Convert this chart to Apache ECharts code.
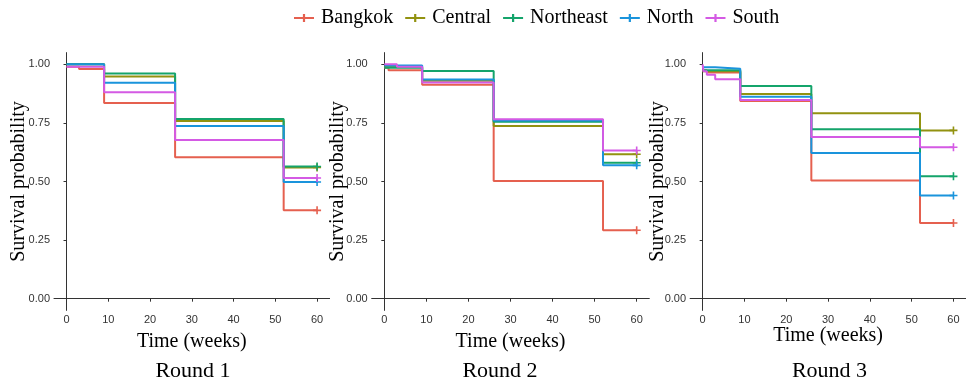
<!DOCTYPE html>
<html>
<head>
<meta charset="utf-8">
<script src="https://cdn.jsdelivr.net/npm/echarts@6/dist/echarts.min.js"></script>
<style>
  html, body { margin: 0; padding: 0; background: #fff; }
  #chart { width: 966px; height: 384px; }
</style>
</head>
<body>
<div id="chart"></div>
<script>
// Kaplan-Meier style survival curves by region, one panel per survey round.
const regions = ['Bangkok', 'Central', 'Northeast', 'North', 'South'];
const regionColors = ['#E5604F', '#929210', '#14A46B', '#1A94DC', '#D45AE4'];
const roundTitles = ['Round 1', 'Round 2', 'Round 3'];
const xTicks = [0, 10, 20, 30, 40, 50, 60];
const yTicks = [0, 0.25, 0.5, 0.75, 1];
const censorTime = 60;

// [time in weeks, survival probability] at each step, per region
const round1 = {
  Bangkok:   [[0, 0.99], [3, 0.98], [9, 0.835], [26, 0.603], [52, 0.377]],
  Central:   [[0, 1.00], [9, 0.948], [26, 0.758], [52, 0.560]],
  Northeast: [[0, 1.00], [9, 0.961], [26, 0.767], [52, 0.564]],
  North:     [[0, 1.00], [9, 0.921], [26, 0.737], [52, 0.498]],
  South:     [[0, 0.99], [9, 0.881], [26, 0.677], [52, 0.515]]
};
const round2 = {
  Bangkok:   [[0, 0.985], [1, 0.975], [9, 0.913], [26, 0.502], [52, 0.292]],
  Central:   [[0, 0.99], [9, 0.930], [26, 0.737], [52, 0.616]],
  Northeast: [[0, 0.985], [9, 0.971], [26, 0.755], [52, 0.580]],
  North:     [[0, 0.995], [9, 0.935], [26, 0.760], [52, 0.569]],
  South:     [[0, 1.00], [3, 0.99], [9, 0.922], [26, 0.766], [52, 0.632]]
};
const round3 = {
  Bangkok:   [[0, 0.975], [1, 0.965], [9, 0.843], [26, 0.504], [52, 0.323]],
  Central:   [[0, 0.97], [9, 0.873], [26, 0.791], [52, 0.718]],
  Northeast: [[0, 0.975], [9, 0.907], [26, 0.723], [52, 0.522]],
  North:     [[0, 0.988], [3, 0.981], [9, 0.862], [26, 0.622], [52, 0.440]],
  South:     [[0, 1.00], [0.2, 0.97], [1, 0.955], [3, 0.936], [9, 0.848], [26, 0.690], [52, 0.646]]
};
const rounds = [round1, round2, round3];

const serif = '"Liberation Serif", "DejaVu Serif", serif';
const narrow = '"Liberation Sans Narrow", "Liberation Sans", Arial, sans-serif';
const plusMark = 'path://M0,3.2h8v1.6h-8z M3.2,0h1.6v8h-1.6z';

const panelLeft = [54, 371.7, 690.1];
const panelWidth = [275.6, 277.6, 278.2];
const xNameGap = [21, 21, 15];
const yNameGap = [25.5, 24, 22];
const titleCenters = [193, 500, 829.5];

const grids = [], xAxes = [], yAxes = [], series = [], labels = [];

rounds.forEach((round, r) => {
  grids.push({ left: panelLeft[r], top: 52.6, width: panelWidth[r], height: 257.8 });
  const axisLine = { show: true, lineStyle: { color: '#333', width: 1 } };
  const axisTick = { show: true, length: 3, lineStyle: { color: '#333' } };
  xAxes.push({
    type: 'value', gridIndex: r, min: -3, max: 63,
    axisLine: axisLine,
    axisTick: Object.assign({ customValues: xTicks }, axisTick),
    axisLabel: { customValues: xTicks, color: '#333', fontFamily: narrow, fontSize: 11, margin: 4 },
    splitLine: { show: false },
    name: 'Time (weeks)', nameLocation: 'middle', nameGap: xNameGap[r], nameMoveOverlap: false,
    nameTextStyle: { fontFamily: serif, fontSize: 20, color: '#000' }
  });
  yAxes.push({
    type: 'value', gridIndex: r, min: -0.05, max: 1.05,
    axisLine: axisLine,
    axisTick: Object.assign({ customValues: yTicks }, axisTick),
    axisLabel: {
      customValues: yTicks, color: '#333', fontFamily: narrow, fontSize: 11, margin: 4,
      formatter: v => v.toFixed(2)
    },
    splitLine: { show: false },
    name: 'Survival probability', nameLocation: 'middle', nameGap: yNameGap[r], nameRotate: 90,
    nameMoveOverlap: false,
    nameTextStyle: { fontFamily: serif, fontSize: 20, color: '#000' }
  });
  regions.forEach((name, k) => {
    const steps = round[name];
    const last = steps[steps.length - 1][1];
    const data = steps.map(p => ({ value: p, symbol: 'none' }));
    data.push({ value: [censorTime, last], symbol: plusMark, symbolSize: 8 });
    series.push({
      name: name, type: 'line', step: 'end',
      xAxisIndex: r, yAxisIndex: r,
      data: data, showSymbol: true, symbolKeepAspect: true,
      color: regionColors[k],
      lineStyle: { width: 2, color: regionColors[k] },
      itemStyle: { color: regionColors[k] },
      animation: false, silent: true
    });
  });
  labels.push({
    type: 'text', x: titleCenters[r], y: 371,
    style: {
      text: roundTitles[r], textAlign: 'center', textVerticalAlign: 'middle',
      font: '22px ' + serif, fill: '#000'
    }
  });
});

const chart = echarts.init(document.getElementById('chart'), null, { renderer: 'canvas' });
chart.setOption({
  backgroundColor: '#fff',
  animation: false,
  graphic: labels,
  legend: {
    data: regions.map((n, k) => ({ name: n, itemStyle: { color: regionColors[k] } })),
    left: 289, top: 3,
    icon: 'path://M0,4h20v2.2h-20z M8.9,1h2.2v8.2h-2.2z',
    itemWidth: 20, itemHeight: 10, itemGap: 12,
    selectedMode: false,
    textStyle: { fontFamily: serif, fontSize: 20, color: '#000', padding: [0, 0, 0, 2] }
  },
  grid: grids,
  xAxis: xAxes,
  yAxis: yAxes,
  series: series
});
</script>
</body>
</html>
